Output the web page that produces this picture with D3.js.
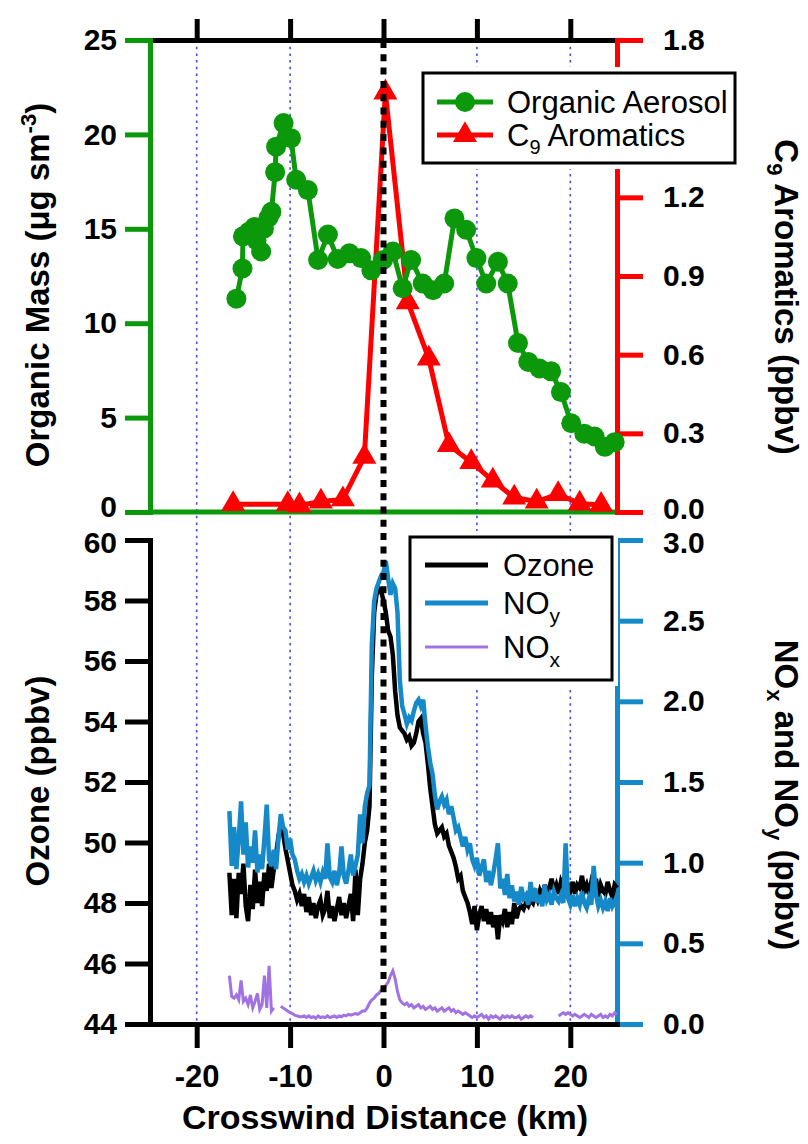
<!DOCTYPE html>
<html><head><meta charset="utf-8">
<script src="https://cdn.jsdelivr.net/npm/d3@7"></script>
<style>
body{margin:0;background:#fff}
svg{display:block}
text{font-family:"Liberation Sans",Arial,Helvetica,sans-serif}
</style>
</head><body>
<svg id="c" width="808" height="1144"></svg>
<script>
// ---------------- DATA ----------------
// Top panel: Organic aerosol (µg sm-3) vs crosswind distance (km)
const oaKm  = [-15.75,-15.1,-15.05,-14.4,-13.8,-13.6,-13.1,-12.8,-12.3,-12.0,-11.6,-11.5,-10.7,-9.9,-9.35,-8.1,-7.0,-5.95,-4.9,-3.65,-2.4,-1.3,-0.05,1.0,2.05,2.95,4.2,5.3,6.5,7.6,8.85,9.95,11.0,12.25,13.3,14.4,15.5,16.7,17.95,19.0,20.1,21.5,22.6,23.7,24.75];
const oaVal = [11.3,12.9,14.6,14.85,15.1,14.4,13.8,15.0,15.6,15.9,18.0,19.35,20.6,19.8,17.6,17.05,13.35,14.7,13.4,13.7,13.45,12.8,13.35,13.8,11.85,13.35,12.1,11.75,12.1,15.55,14.95,13.45,12.1,13.25,12.1,8.95,7.95,7.6,7.45,6.35,4.7,4.15,4.0,3.45,3.7];
// Top panel: C9 aromatics (ppbv)
const c9Km  = [-16.1,-10.25,-9.0,-6.7,-4.35,-2.05,0.2,2.6,4.85,7.0,9.4,11.7,14.0,16.4,18.7,21.0,23.3];
const c9Val = [0.03,0.03,0.025,0.04,0.048,0.21,1.60,0.80,0.585,0.255,0.19,0.12,0.055,0.04,0.068,0.032,0.027];

// Bottom panel: samples every 0.25 km starting at -16.5 km
const bottomStartKm = -16.5, bottomStepKm = 0.25;
const ozone = [
 49.0,47.6,48.8,47.5,49.0,48.3,49.3,47.9,47.4,48.6,
 47.8,49.1,48.0,48.7,47.9,49.0,48.4,49.3,48.5,49.1,
 49.6,50.2,50.6,50.3,49.8,49.4,49.0,48.6,48.4,48.1,
 48.3,47.9,48.3,47.7,48.2,47.6,48.0,47.5,47.9,48.1,
 47.6,47.8,48.4,47.5,47.9,47.4,47.8,48.2,47.6,48.0,
 47.5,47.9,48.3,47.4,49.1,47.6,48.8,49.3,50.0,50.4,
 51.2,55.5,57.6,58.2,58.4,58.3,58.0,57.6,57.0,56.8,
 56.2,55.0,54.2,53.8,53.7,53.6,53.4,53.5,53.2,53.3,
 53.6,54.0,54.1,53.6,53.3,52.6,51.8,51.2,50.6,50.3,
 50.4,50.5,50.2,50.3,49.9,49.7,49.5,49.2,48.8,48.9,
 48.4,48.2,48.0,47.7,47.3,47.9,47.1,47.6,47.9,47.4,
 47.8,47.3,47.7,47.2,47.6,46.8,47.6,47.4,47.8,47.2,
 47.7,47.3,48.0,47.5,47.8,47.9,47.8,48.0,47.9,48.1,
 48.0,48.3,48.1,48.4,48.2,48.6,48.3,48.5,48.8,48.4,
 48.6,48.3,48.7,48.5,48.2,48.6,48.4,48.7,48.3,48.6,
 48.5,48.9,48.4,48.6,48.3,48.7,48.5,48.8,48.2,48.6,
 48.4,48.3,48.7,48.4,48.2,48.6,48.5];
const noy = [
 1.32,0.98,1.22,0.96,1.15,1.38,1.05,1.25,0.97,1.10,
 1.00,1.20,0.94,1.05,0.96,1.15,1.36,1.02,0.98,1.08,
 0.96,1.15,1.30,1.22,1.20,1.08,1.15,1.05,1.02,0.95,
 0.90,0.93,0.88,0.92,0.87,0.91,0.95,0.89,0.93,0.88,
 0.94,0.90,1.12,0.91,0.88,0.95,0.86,0.93,1.10,0.92,
 0.87,0.95,1.05,0.92,0.98,1.05,1.30,1.12,1.35,1.43,
 1.48,2.35,2.62,2.70,2.74,2.78,2.80,2.87,2.76,2.66,
 2.73,2.70,2.55,2.13,1.97,1.92,1.86,1.90,1.88,1.94,
 1.99,2.01,1.97,2.01,1.85,1.72,1.62,1.55,1.42,1.33,
 1.38,1.41,1.36,1.39,1.30,1.35,1.28,1.20,1.22,1.16,
 1.10,1.16,1.08,1.12,1.02,0.98,1.03,0.92,0.97,1.02,
 0.88,0.95,0.86,0.93,1.02,1.12,0.84,0.90,0.80,0.93,
 0.78,0.86,0.76,0.82,0.74,0.85,0.78,0.80,0.74,0.88,
 0.76,0.84,0.75,0.80,0.73,0.86,0.77,0.80,0.74,0.82,
 0.78,0.76,0.80,0.75,1.12,0.78,0.74,0.80,0.73,0.78,
 0.74,0.82,0.75,0.72,0.78,0.74,0.98,0.80,0.73,0.77,
 0.72,0.76,0.70,0.78,0.73,0.76,0.72];
const nox = [
 0.30,0.17,0.16,0.18,0.15,0.27,0.14,0.16,0.12,0.18,
 0.10,0.14,0.19,0.09,0.12,0.30,0.10,0.36,0.08,0.10,
 null,null,0.11,0.10,0.09,0.08,0.07,0.065,0.055,0.05,
 0.045,0.045,0.05,0.04,0.05,0.04,0.045,0.035,0.05,0.04,
 0.045,0.04,0.05,0.04,0.045,0.05,0.04,0.05,0.045,0.055,
 0.05,0.06,0.055,0.06,0.065,0.06,0.07,0.08,0.08,0.10,
 0.13,0.15,0.16,0.18,0.19,0.21,0.22,0.24,0.26,0.30,
 0.33,0.28,0.20,0.15,0.13,0.12,0.13,0.11,0.12,0.10,
 0.11,0.12,0.10,0.11,0.09,0.10,0.11,0.09,0.10,0.08,
 0.09,0.10,0.08,0.09,0.10,0.08,0.09,0.07,0.08,0.07,
 0.06,0.07,0.06,0.05,0.04,0.05,0.04,0.05,0.06,0.04,
 0.05,0.03,0.05,0.04,0.05,0.04,0.03,0.05,0.04,0.05,
 0.04,0.05,0.04,0.04,0.05,0.03,0.04,0.05,0.04,0.05,
 0.04,null,null,null,null,null,null,null,null,null,
 null,0.05,0.06,0.07,0.06,0.07,0.06,0.05,0.06,0.05,
 0.04,0.05,0.06,0.05,0.04,0.06,0.05,0.04,0.05,0.06,
 0.04,0.05,0.04,0.06,0.05,0.07,0.06];

const xTicks = [-20,-10,0,10,20];
const gridKm = [-20,-10,10,20];
const oaTicks = [0,5,10,15,20,25];
const c9Ticks = [0,0.3,0.6,0.9,1.2,1.5,1.8];
const c9HiddenLabels = [1.5];   // label covered by the legend in the original
const o3Ticks = [44,46,48,50,52,54,56,58,60];
const noTicks = [0,0.5,1.0,1.5,2.0,2.5,3.0];

// ---------------- DRAWING ----------------
const FONT = '"Liberation Sans",Arial,Helvetica,sans-serif';
const GREEN='#0b980b', RED='#ff0000', BLUE='#1689c9', PURPLE='#a172e2', GRIDC='#4b4bea';
const svg = d3.select('#c');

const x   = d3.scaleLinear().domain([-25,25]).range([150,617]);
const yOA = d3.scaleLinear().domain([0,25]).range([512,40]);
const yC9 = d3.scaleLinear().domain([0,1.8]).range([512,40]);
const yO3 = d3.scaleLinear().domain([44,60]).range([1024,540]);
const yNO = d3.scaleLinear().domain([0,3]).range([1024,540]);

const kmAt = i => bottomStartKm + i*bottomStepKm;

// grid lines
svg.append('g').selectAll('line').data(gridKm).join('line')
  .attr('x1',d=>x(d)).attr('x2',d=>x(d)).attr('y1',40).attr('y2',1024)
  .attr('stroke',GRIDC).attr('stroke-width',1.6).attr('stroke-dasharray','2.5,4.2');

function styleAxis(g, color, fs){
  g.attr('font-family',null).attr('font-size',null);
  g.select('.domain').attr('stroke',color).attr('stroke-width',5).attr('stroke-linecap','square');
  g.selectAll('.tick line').attr('stroke',color).attr('stroke-width',5);
  g.selectAll('.tick text').attr('fill','#000').attr('font-size',fs||30).attr('font-weight','bold').attr('font-family',FONT);
  g.selectAll('.tick text').filter(function(){return this.textContent==='';}).remove();
  return g;
}
// nudge the labels where the two panels meet, as in the original
function nudge(g, value, dy){
  g.selectAll('.tick').filter(d=>d===value).select('text').attr('y',dy);
}

// ---- axes (top panel)
styleAxis(svg.append('g').attr('transform','translate(0,40)')
  .call(d3.axisTop(x).tickValues(xTicks).tickSize(21).tickSizeOuter(0).tickFormat('')), '#000');
svg.append('line').attr('x1',150).attr('x2',617).attr('y1',512).attr('y2',512)
  .attr('stroke',GREEN).attr('stroke-width',5);
const axOA = styleAxis(svg.append('g').attr('transform','translate(150,0)')
  .call(d3.axisLeft(yOA).tickValues(oaTicks).tickSize(25).tickSizeOuter(0).tickPadding(8).tickFormat(d=>String(d))), GREEN);
nudge(axOA, 0, -5);
const axC9 = styleAxis(svg.append('g').attr('transform','translate(617,0)')
  .call(d3.axisRight(yC9).tickValues(c9Ticks).tickSize(26).tickSizeOuter(0).tickPadding(20)
    .tickFormat(d=> c9HiddenLabels.includes(d) ? '' : d3.format('.1f')(d))), RED);
nudge(axC9, 0, -3);

// ---- axes (bottom panel)
const axO3 = styleAxis(svg.append('g').attr('transform','translate(150,0)')
  .call(d3.axisLeft(yO3).tickValues(o3Ticks).tickSize(25).tickSizeOuter(0).tickPadding(8).tickFormat(d=>String(d))), '#000');
nudge(axO3, 60, 3);
const axNO = styleAxis(svg.append('g').attr('transform','translate(617,0)')
  .call(d3.axisRight(yNO).tickValues(noTicks).tickSize(26).tickSizeOuter(0).tickPadding(20).tickFormat(d3.format('.1f'))), BLUE);
nudge(axNO, 3, 3);
styleAxis(svg.append('g').attr('transform','translate(0,1024)')
  .call(d3.axisBottom(x).tickValues(xTicks).tickSize(24).tickSizeOuter(0).tickPadding(17).tickFormat(d=>String(d))), '#000', 31);

// ---- top panel series
const oaData = oaKm.map((k,i)=>({k, v:oaVal[i]}));
const c9Data = c9Km.map((k,i)=>({k, v:c9Val[i]}));
svg.append('path').datum(c9Data)
  .attr('d', d3.line().x(d=>x(d.k)).y(d=>yC9(d.v)))
  .attr('fill','none').attr('stroke',RED).attr('stroke-width',5).attr('stroke-linejoin','round');
svg.append('g').selectAll('path').data(c9Data).join('path')
  .attr('transform',d=>`translate(${x(d.k)},${yC9(d.v)})`)
  .attr('d', d3.symbol().type(d3.symbolTriangle).size(250)).attr('fill',RED);
svg.append('path').datum(oaData)
  .attr('d', d3.line().x(d=>x(d.k)).y(d=>yOA(d.v)))
  .attr('fill','none').attr('stroke',GREEN).attr('stroke-width',5).attr('stroke-linejoin','round');
svg.append('g').selectAll('circle').data(oaData).join('circle')
  .attr('cx',d=>x(d.k)).attr('cy',d=>yOA(d.v)).attr('r',10).attr('fill',GREEN);

// ---- bottom panel series
const line = (sc)=> d3.line().defined(d=>d.v!=null).x(d=>x(d.k)).y(d=>sc(d.v));
const o3Data  = ozone.map((v,i)=>({k:kmAt(i), v}));
const noyData = noy.map((v,i)=>({k:kmAt(i), v}));
const noxData = nox.map((v,i)=>({k:kmAt(i), v}));
svg.append('path').datum(o3Data).attr('d', line(yO3))
  .attr('fill','none').attr('stroke','#000').attr('stroke-width',4.5).attr('stroke-linejoin','miter');
svg.append('path').datum(noyData).attr('d', line(yNO))
  .attr('fill','none').attr('stroke',BLUE).attr('stroke-width',4.5).attr('stroke-linejoin','miter');
svg.append('path').datum(noxData).attr('d', line(yNO))
  .attr('fill','none').attr('stroke',PURPLE).attr('stroke-width',3);

// zero line (dotted)
svg.append('line').attr('x1',x(0)).attr('x2',x(0)).attr('y1',41).attr('y2',1024)
  .attr('stroke','#000').attr('stroke-width',6).attr('stroke-dasharray','7,6.3');

// ---- legends
function legendBox(x0,y0,w,h){
  svg.append('rect').attr('x',x0-6).attr('y',y0-6).attr('width',w+12).attr('height',h+12).attr('fill','#fff');
  svg.append('rect').attr('x',x0).attr('y',y0).attr('width',w).attr('height',h)
    .attr('fill','#fff').attr('stroke','#000').attr('stroke-width',3);
}
legendBox(423,73,312,90);
const lg1 = [{c:GREEN, sym:'circle', y:102, name:['Organic Aerosol']},
             {c:RED, sym:'tri', y:135, name:['C','9',' Aromatics']}];
lg1.forEach(e=>{
  svg.append('line').attr('x1',437).attr('x2',493).attr('y1',e.y).attr('y2',e.y).attr('stroke',e.c).attr('stroke-width',5);
  if(e.sym==='circle') svg.append('circle').attr('cx',465).attr('cy',e.y).attr('r',10).attr('fill',e.c);
  else svg.append('path').attr('transform',`translate(465,${e.y})`).attr('d',d3.symbol().type(d3.symbolTriangle).size(250)).attr('fill',e.c);
  const t = svg.append('text').attr('x',507).attr('y',e.y).attr('dy','0.36em').attr('font-size',31).attr('fill','#000');
  t.append('tspan').text(e.name[0]);
  if(e.name.length>1){
    t.append('tspan').attr('dy',8).attr('font-size',20).text(e.name[1]);
    t.append('tspan').attr('dy',-8).text(e.name[2]);
  }
});
legendBox(410,537,202,143);
const lg2 = [{c:'#000', w:5, y:565, name:['Ozone']},
             {c:BLUE, w:5, y:603, name:['NO','y']},
             {c:PURPLE, w:3, y:647, name:['NO','x']}];
lg2.forEach(e=>{
  svg.append('line').attr('x1',425).attr('x2',488).attr('y1',e.y).attr('y2',e.y).attr('stroke',e.c).attr('stroke-width',e.w);
  const t = svg.append('text').attr('x',503).attr('y',e.y).attr('dy','0.36em').attr('font-size',31).attr('fill','#000');
  t.append('tspan').text(e.name[0]);
  if(e.name.length>1) t.append('tspan').attr('dy',9).attr('font-size',21).text(e.name[1]);
});

// ---- axis titles
function title(tx,ty,rot,parts){
  const t = svg.append('text').attr('transform',`translate(${tx},${ty}) rotate(${rot})`)
    .attr('text-anchor','middle').attr('font-size',33).attr('font-weight','bold').attr('fill','#000');
  parts.forEach(p=>{
    const s = t.append('tspan').text(p.t);
    if(p.dy) s.attr('dy',p.dy);
    if(p.fs) s.attr('font-size',p.fs);
  });
}
title(49,285,-90,[{t:'Organic Mass (μg sm'},{t:'-3',dy:-13,fs:22},{t:')',dy:13}]);
title(775,297,90,[{t:'C'},{t:'9',dy:8,fs:22},{t:' Aromatics (ppbv)',dy:-8}]);
title(49,781,-90,[{t:'Ozone (ppbv)'}]);
title(775,795,90,[{t:'NO'},{t:'x',dy:8,fs:22},{t:' and NO',dy:-8},{t:'y',dy:8,fs:22},{t:' (ppbv)',dy:-8}]);
svg.append('text').attr('x',385).attr('y',1129).attr('text-anchor','middle')
  .attr('font-size',34).attr('font-weight','bold').attr('fill','#000').text('Crosswind Distance (km)');
</script>
</body></html>
